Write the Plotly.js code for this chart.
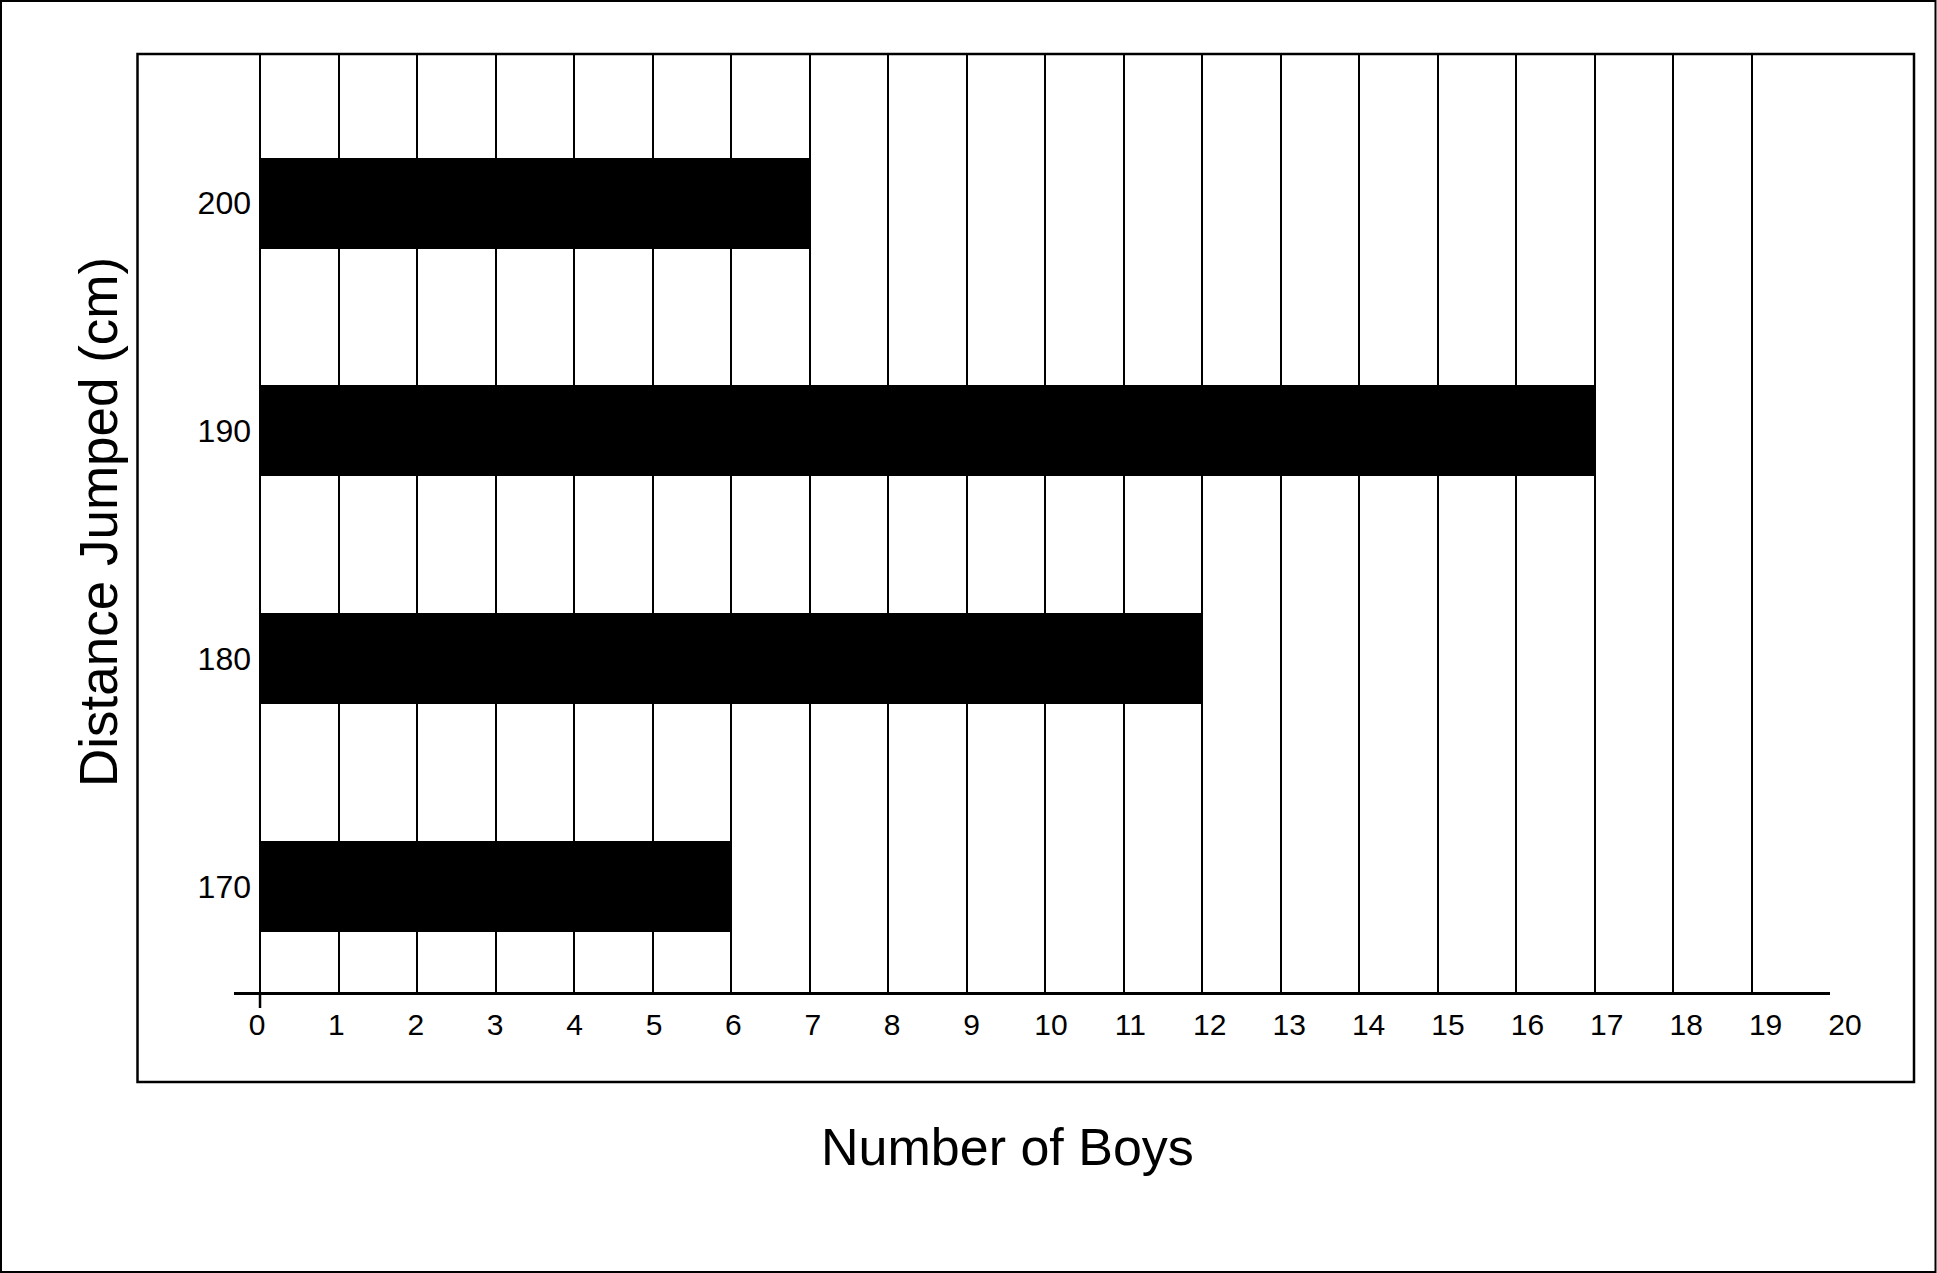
<!DOCTYPE html>
<html>
<head>
<meta charset="utf-8">
<script src="https://cdn.plot.ly/plotly-3.0.1.min.js"></script>
<style>
  html, body { margin: 0; padding: 0; background: #ffffff; overflow: hidden; }
  #chart { width: 1937px; height: 1273px; }
</style>
</head>
<body>
<div id="chart"></div>
<script>
// ---- Data ----
const distances = [170, 180, 190, 200];          // Distance Jumped (cm)
const boys = [6, 12, 17, 7];                      // Number of Boys
const xTicks = [0, 1, 2, 3, 4, 5, 6, 7, 8, 9, 10, 11, 12, 13, 14, 15, 16, 17, 18, 19, 20];
const xTickLabels = xTicks.map(String);
const yTickLabels = distances.map(String);
const xTitle = "Number of Boys";
const yTitle = "Distance Jumped (cm)";

// ---- Geometry helpers (pixel layout) ----
const W = 1937, H = 1273;
const plotL = 234, plotR = 1870, plotT = 54, plotB = 992;
const pw = plotR - plotL, ph = plotB - plotT;
const px = v => (v - plotL) / pw;        // pixel x -> paper x
const py = v => (plotB - v) / ph;        // pixel y -> paper y

const mainFont = "Liberation Sans, Arial, sans-serif";

const traces = [
  {
    type: 'bar',
    orientation: 'h',
    x: boys,
    y: distances,
    width: 4,
    marker: { color: '#000000', line: { width: 0 } },
    hoverinfo: 'skip',
    showlegend: false
  },
  {
    type: 'scatter',
    mode: 'markers',
    x: boys,
    y: distances,
    xaxis: 'x2',
    marker: { opacity: 0, size: 1 },
    hoverinfo: 'skip',
    showlegend: false
  }
];

const layout = {
  width: W,
  height: H,
  margin: { l: plotL, r: W - plotR, t: plotT, b: H - plotB, pad: 0 },
  paper_bgcolor: '#ffffff',
  plot_bgcolor: 'rgba(0,0,0,0)',
  showlegend: false,
  bargap: 0,
  xaxis: {
    domain: [0, px(1830)],
    range: [-0.3314, 20],
    tickmode: 'array',
    tickvals: xTicks,
    showticklabels: false,
    ticks: '',
    showgrid: true,
    gridcolor: '#000000',
    gridwidth: 2,
    zeroline: false,
    showline: true,
    linecolor: '#000000',
    linewidth: 2.5,
    fixedrange: true
  },
  xaxis2: {
    anchor: 'y',
    side: 'bottom',
    domain: [0, 1],
    range: [-0.2897, 20.3148],
    tickmode: 'array',
    tickvals: xTicks,
    ticktext: xTickLabels,
    ticks: '',
    showgrid: false,
    zeroline: false,
    showline: false,
    ticklabelstandoff: 12,
    tickfont: { family: mainFont, size: 30, color: '#000000' },
    fixedrange: true
  },
  yaxis: {
    range: [165.36, 206.55],
    tickmode: 'array',
    tickvals: distances,
    ticktext: yTickLabels,
    ticks: '',
    showgrid: false,
    zeroline: false,
    showline: false,
    anchor: 'free',
    position: px(251),
    tickfont: { family: mainFont, size: 32, color: '#000000' },
    fixedrange: true
  },
  shapes: [
    // outer frame
    { type: 'rect', xref: 'paper', yref: 'paper',
      x0: px(1), x1: px(W - 1.5), y0: py(H - 1), y1: py(1),
      line: { color: '#000000', width: 2 }, fillcolor: 'rgba(0,0,0,0)', layer: 'below' },
    // inner box
    { type: 'rect', xref: 'paper', yref: 'paper',
      x0: px(137.5), x1: px(1914), y0: py(1082), y1: py(54),
      line: { color: '#000000', width: 2.5 }, fillcolor: 'rgba(0,0,0,0)', layer: 'below' },
    // single tick mark at the origin of x
    { type: 'line', xref: 'x', yref: 'paper',
      x0: xTicks[0], x1: xTicks[0], y0: 0, y1: py(1008),
      line: { color: '#000000', width: 2.5 } }
  ],
  annotations: [
    { text: xTitle, xref: 'paper', yref: 'paper', x: px(1007), y: py(1147),
      xanchor: 'center', yanchor: 'middle', showarrow: false,
      font: { family: mainFont, size: 52, color: '#000000' } },
    { text: yTitle, xref: 'paper', yref: 'paper', x: px(98), y: py(522),
      xanchor: 'center', yanchor: 'middle', showarrow: false, textangle: -90,
      font: { family: mainFont, size: 53, color: '#000000' } }
  ]
};

Plotly.newPlot('chart', traces, layout, { displayModeBar: false, staticPlot: true });
</script>
</body>
</html>
